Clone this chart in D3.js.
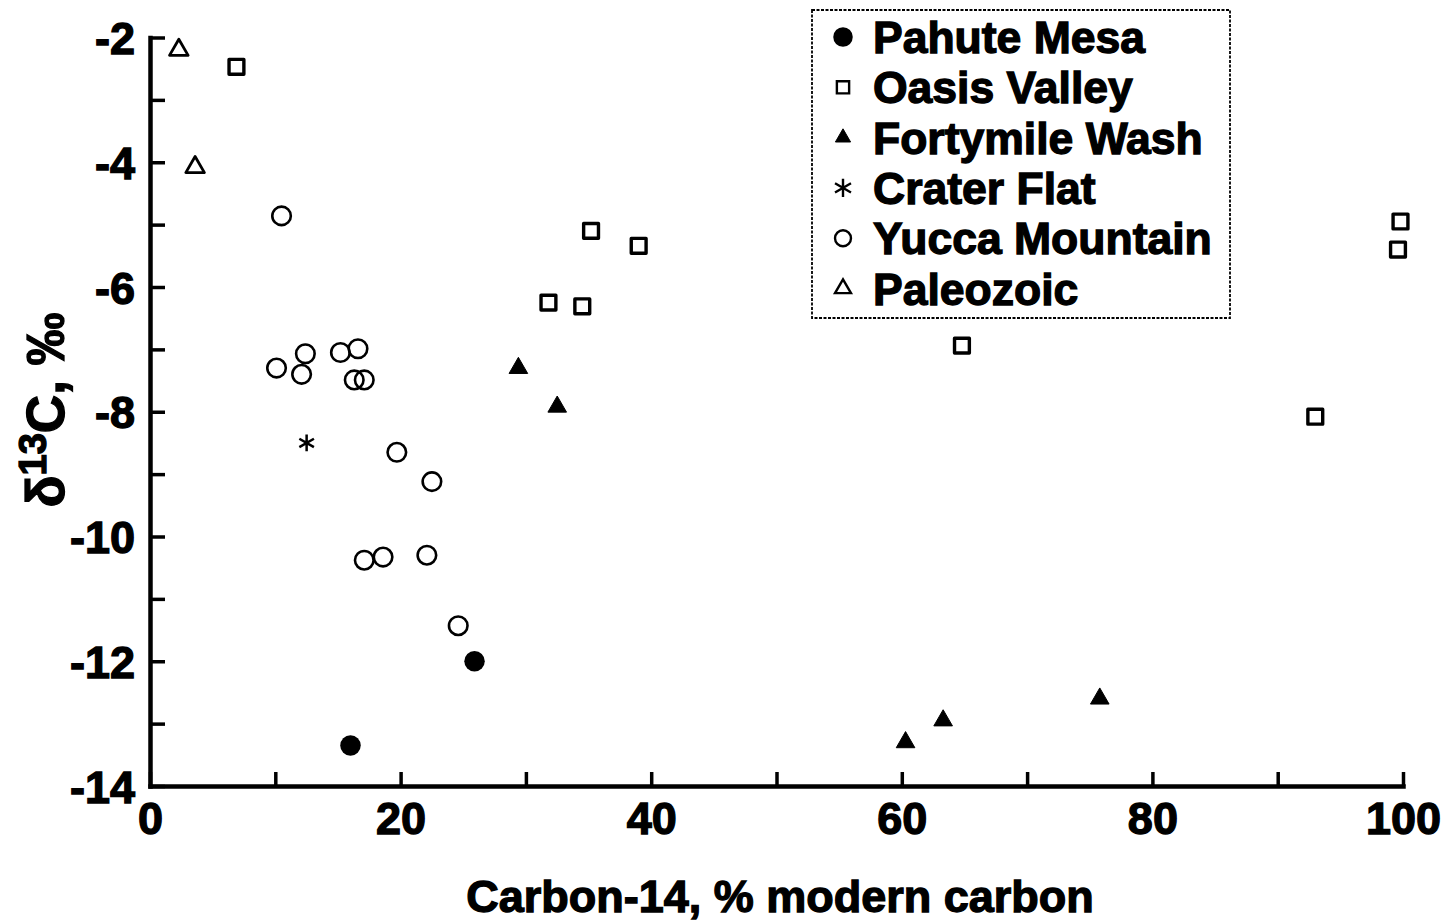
<!DOCTYPE html>
<html>
<head>
<meta charset="utf-8">
<script src="https://cdn.jsdelivr.net/npm/d3@7"></script>
<style>
  body { margin: 0; background: #fff; }
  svg { display: block; font-family: "Liberation Sans", Arial, Helvetica, sans-serif; font-weight: bold; }
  .heavy { stroke: #000; stroke-width: 1.3px; paint-order: stroke; }
</style>
</head>
<body>
<svg width="1447" height="923"></svg>
<script>
// series: [carbon-14 (% modern), delta13C (permil)]
var pahuteMesa = [[16.0, -13.35], [25.9, -12.0]];
var oasisValley = [[6.9, -2.47], [35.2, -5.1], [39.0, -5.34], [31.8, -6.25], [34.5, -6.31],
                   [64.8, -6.94], [93.0, -8.08], [99.8, -4.95], [99.6, -5.4]];
var fortymileWash = [[29.4, -7.3], [32.5, -7.92], [60.3, -13.3], [63.3, -12.95], [75.8, -12.6]];
var craterFlat = [[12.5, -8.5]];
var yuccaMountain = [[10.5, -4.86], [10.1, -7.3], [12.1, -7.4], [12.4, -7.07], [15.2, -7.05],
                     [16.6, -6.99], [16.3, -7.49], [17.1, -7.49], [19.7, -8.65], [22.5, -9.12],
                     [17.1, -10.38], [18.6, -10.33], [22.1, -10.3], [24.6, -11.43]];
var paleozoic = [[2.3, -2.2], [3.6, -4.08]];

var seriesNames = ["Pahute Mesa", "Oasis Valley", "Fortymile Wash", "Crater Flat", "Yucca Mountain", "Paleozoic"];
var xTicks = [0, 10, 20, 30, 40, 50, 60, 70, 80, 90, 100];
var yTicks = [-14, -13, -12, -11, -10, -9, -8, -7, -6, -5, -4, -3, -2];

var svg = d3.select('svg');

var xScale = d3.scaleLinear().domain([0, 100]).range([150, 1403]);
var yScale = d3.scaleLinear().domain([-14, -2]).range([786, 37.5]);

// marker styles per series
var styles = [
    {type: d3.symbolCircle,   size: 330, fill: "#000", stroke: "none", sw: 0,   lsize: 300},
    {type: d3.symbolSquare,   size: 220, fill: "none", stroke: "#000", sw: 3.4, lsize: 150},
    {type: d3.symbolTriangle, size: 150, fill: "#000", stroke: "#000", sw: 1,   lsize: 100},
    {type: d3.symbolAsterisk, size: 200, fill: "none", stroke: "#000", sw: 2.5, lsize: 240},
    {type: d3.symbolCircle,   size: 270, fill: "none", stroke: "#000", sw: 2.6, lsize: 200},
    {type: d3.symbolTriangle, size: 150, fill: "none", stroke: "#000", sw: 2.8, lsize: 110}
];
var allSeries = [pahuteMesa, oasisValley, fortymileWash, craterFlat, yuccaMountain, paleozoic];

// axes
var yAxis = d3.axisLeft(yScale)
    .tickValues(yTicks)
    .tickSizeInner(-15)
    .tickSizeOuter(0)
    .tickPadding(15)
    .tickFormat(function(d) { return d % 2 === 0 ? String(d) : ""; });

var xAxis = d3.axisBottom(xScale)
    .tickValues(xTicks)
    .tickSizeInner(-14)
    .tickSizeOuter(0)
    .tickPadding(16)
    .tickFormat(function(d) { return d % 20 === 0 ? String(d) : ""; });

var gy = svg.append('g')
    .attr('transform', 'translate(' + xScale(0) + ',0)')
    .call(yAxis);
var gx = svg.append('g')
    .attr('transform', 'translate(0,' + yScale(-14) + ')')
    .call(xAxis);

[gy, gx].forEach(function(g) {
    g.select('.domain').attr('stroke-width', 4.5).attr('stroke-linecap', 'square');
    g.selectAll('.tick line').attr('stroke-width', 3.5);
    g.selectAll('.tick text')
        .attr('class', 'heavy')
        .attr('font-size', 45)
        .attr('font-family', '"Liberation Sans", Arial, sans-serif')
        .attr('font-weight', 'bold')
        .attr('fill', '#000');
});
gy.selectAll('.tick text').attr('dy', '0.36em');
gx.selectAll('.tick text').attr('dy', '0.7em');

// axis titles
svg.append('text')
    .attr('class', 'heavy')
    .attr('x', 780)
    .attr('y', 912)
    .attr('text-anchor', 'middle')
    .attr('font-size', 45)
    .text('Carbon-14, % modern carbon');

var yTitle = svg.append('text')
    .attr('class', 'heavy')
    .attr('transform', 'translate(64,410) rotate(-90)')
    .attr('text-anchor', 'middle')
    .attr('font-size', 53);
yTitle.append('tspan').text('δ');
yTitle.append('tspan').attr('font-size', 38).attr('dy', -18).text('13');
yTitle.append('tspan').attr('dy', 18).text('C, ‰');

// points
allSeries.forEach(function(data, i) {
    var st = styles[i];
    svg.append('g').selectAll('path')
        .data(data)
        .enter()
        .append('path')
        .attr('transform', function(d) { return 'translate(' + [xScale(d[0]), yScale(d[1])] + ')'; })
        .attr('d', d3.symbol().type(st.type).size(st.size))
        .attr('fill', st.fill)
        .attr('stroke', st.stroke)
        .attr('stroke-width', st.sw)
        .attr('stroke-linejoin', 'round');
});

// legend
var legend = svg.append('g');
legend.append('rect')
    .attr('x', 812)
    .attr('y', 10)
    .attr('width', 418)
    .attr('height', 308)
    .attr('fill', 'none')
    .attr('stroke', '#000')
    .attr('stroke-width', 1.8)
    .attr('stroke-dasharray', '3,1.5');

var rows = legend.selectAll('.legRow')
    .data(seriesNames)
    .enter()
    .append('g')
    .attr('class', 'legRow')
    .attr('transform', function(d, i) { return 'translate(0,' + (37 + i * 50.3) + ')'; });

rows.append('path')
    .attr('transform', 'translate(843,0)')
    .attr('d', function(d, i) { return d3.symbol().type(styles[i].type).size(styles[i].lsize)(); })
    .attr('fill', function(d, i) { return styles[i].fill; })
    .attr('stroke', function(d, i) { return styles[i].stroke; })
    .attr('stroke-width', function(d, i) { return Math.min(styles[i].sw, 2.4); });

rows.append('text')
    .attr('class', 'heavy')
    .attr('x', 873)
    .attr('dy', '0.36em')
    .attr('font-size', 44.5)
    .text(function(d) { return d; });
</script>
</body>
</html>
